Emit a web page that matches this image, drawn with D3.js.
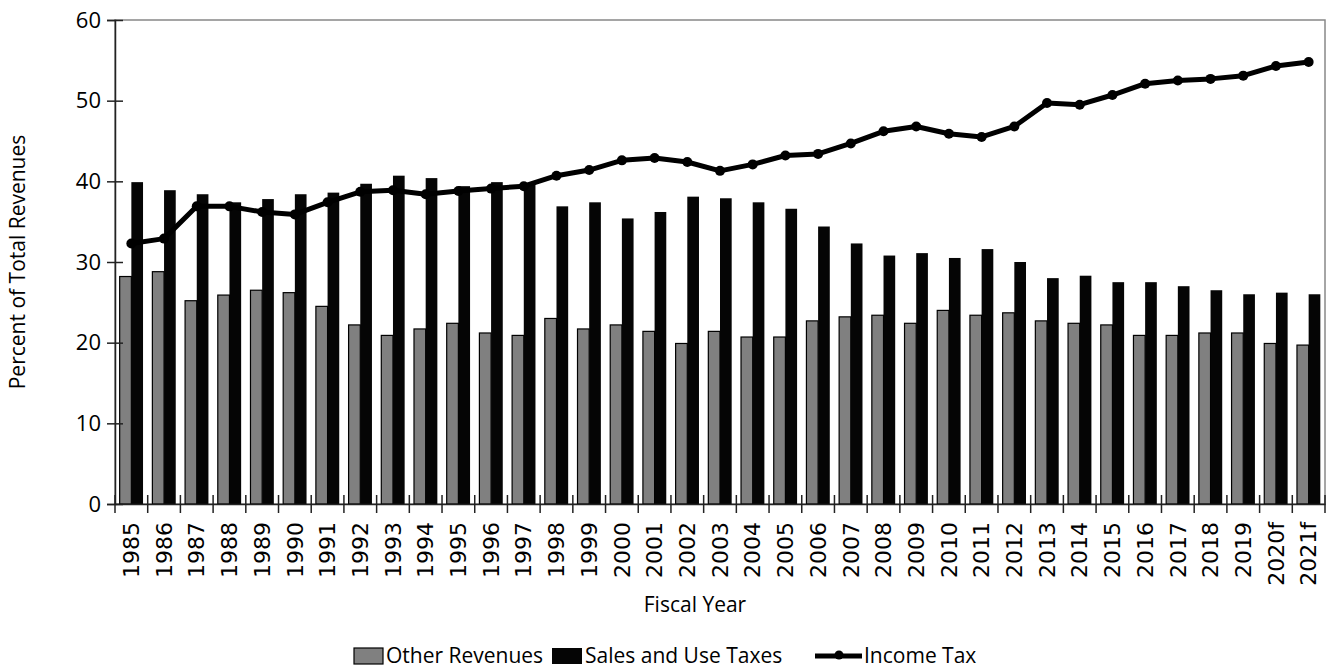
<!DOCTYPE html>
<html>
<head>
<meta charset="utf-8">
<script src="https://cdn.jsdelivr.net/npm/d3@7/dist/d3.min.js"></script>
<style>
  html, body { margin: 0; padding: 0; background: #fff; }
  svg { display: block; }
</style>
</head>
<body>
<svg id="chart" width="1330" height="671"></svg>
<script>
const years = ["1985","1986","1987","1988","1989","1990","1991","1992","1993","1994","1995","1996","1997","1998","1999","2000","2001","2002","2003","2004","2005","2006","2007","2008","2009","2010","2011","2012","2013","2014","2015","2016","2017","2018","2019","2020f","2021f"];
const otherRevenues = [28.2,28.8,25.2,25.9,26.5,26.2,24.5,22.2,20.9,21.7,22.4,21.2,20.9,23.0,21.7,22.2,21.4,19.9,21.4,20.7,20.7,22.7,23.2,23.4,22.4,24.0,23.4,23.7,22.7,22.4,22.2,20.9,20.9,21.2,21.2,19.9,19.7];
const salesTaxes = [39.9,38.9,38.4,37.4,37.8,38.4,38.6,39.7,40.7,40.4,39.4,39.9,39.6,36.9,37.4,35.4,36.2,38.1,37.9,37.4,36.6,34.4,32.3,30.8,31.1,30.5,31.6,30.0,28.0,28.3,27.5,27.5,27.0,26.5,26.0,26.2,26.0];
const incomeTax = [32.3,32.9,36.9,36.9,36.2,35.9,37.4,38.7,38.9,38.4,38.8,39.1,39.4,40.7,41.4,42.6,42.9,42.4,41.3,42.1,43.2,43.4,44.7,46.2,46.8,45.9,45.5,46.8,49.7,49.5,50.7,52.1,52.5,52.7,53.1,54.3,54.8];
const yTicks = [0,10,20,30,40,50,60];
const seriesNames = ["Other Revenues","Sales and Use Taxes","Income Tax"];
const yTitle = "Percent of Total Revenues";
const xTitle = "Fiscal Year";

const FONT = "'Open Sans', sans-serif";
const svg = d3.select("#chart");
const L = 115, R = 1325, T = 20, B = 504;

const x = d3.scaleBand().domain(years).range([L, R]).paddingInner(0).paddingOuter(0);
const y = d3.scaleLinear().domain([0, 60]).range([B, T]);
const bw = x.bandwidth();
const w = bw / 2.8;
const off = (bw - 2 * w) / 2;

// plot border
svg.append("rect").attr("x", L).attr("y", T).attr("width", R - L).attr("height", B - T)
  .attr("fill", "none").attr("stroke", "#888").attr("stroke-width", 1.5);

// bars
const data = years.map((yr, i) => ({yr, o: otherRevenues[i], s: salesTaxes[i], t: incomeTax[i]}));
svg.append("g").selectAll("rect").data(data).join("rect")
  .attr("x", d => x(d.yr) + off).attr("width", w)
  .attr("y", d => y(d.o)).attr("height", d => y(0) - y(d.o))
  .attr("fill", "#808080").attr("stroke", "#000").attr("stroke-width", 1.2);
svg.append("g").selectAll("rect").data(data).join("rect")
  .attr("x", d => x(d.yr) + off + w).attr("width", w)
  .attr("y", d => y(d.s)).attr("height", d => y(0) - y(d.s))
  .attr("fill", "#050505");

// y axis
const yAxis = svg.append("g").attr("transform", `translate(${L},0)`)
  .call(d3.axisLeft(y).tickValues(yTicks).tickSize(8).tickPadding(6));
yAxis.select(".domain").attr("stroke", "#222").attr("stroke-width", 1.5);
yAxis.selectAll(".tick line").attr("x1", -8).attr("x2", 8).attr("stroke", "#222").attr("stroke-width", 1.5);
yAxis.selectAll(".tick text").attr("font-family", FONT).attr("font-size", 22).attr("fill", "#000");

// x axis
const xAxis = svg.append("g").attr("transform", `translate(0,${B})`)
  .call(d3.axisBottom(x).tickSize(0).tickPadding(0));
xAxis.select(".domain").attr("stroke", "#222").attr("stroke-width", 1.5);
xAxis.selectAll(".tick text")
  .attr("font-family", "'DejaVu Sans', sans-serif").attr("font-size", 22).attr("fill", "#000")
  .attr("transform", "rotate(-90)").attr("text-anchor", "end")
  .attr("x", -18).attr("y", 0).attr("dy", "0.35em");
const boundaries = years.map(yr => x(yr)).concat([R]);
xAxis.append("g").selectAll("line").data(boundaries).join("line")
  .attr("x1", d => d).attr("x2", d => d).attr("y1", -9).attr("y2", 9)
  .attr("stroke", "#222").attr("stroke-width", 1.5);

// income tax line
const line = d3.line().x(d => x(d.yr) + bw / 2).y(d => y(d.t));
svg.append("path").datum(data).attr("d", line)
  .attr("fill", "none").attr("stroke", "#000").attr("stroke-width", 5).attr("stroke-linejoin", "round");
svg.append("g").selectAll("circle").data(data).join("circle")
  .attr("cx", d => x(d.yr) + bw / 2).attr("cy", d => y(d.t)).attr("r", 5).attr("fill", "#000");

// axis titles
svg.append("text").attr("transform", `translate(25,${(T + B) / 2}) rotate(-90)`)
  .attr("text-anchor", "middle").attr("font-family", FONT).attr("font-size", 21).text(yTitle);
svg.append("text").attr("x", 695).attr("y", 612)
  .attr("text-anchor", "middle").attr("font-family", FONT).attr("font-size", 21).text(xTitle);

// legend
const lg = svg.append("g").attr("transform", "translate(0,656)");
lg.append("rect").attr("x", 354).attr("y", -8).attr("width", 29).attr("height", 16)
  .attr("fill", "#808080").attr("stroke", "#000").attr("stroke-width", 1.2);
lg.append("text").attr("x", 386).attr("y", 0).attr("dy", "0.35em").attr("font-family", FONT).attr("font-size", 21).text(seriesNames[0]);
lg.append("rect").attr("x", 552).attr("y", -8).attr("width", 30).attr("height", 16).attr("fill", "#050505");
lg.append("text").attr("x", 585).attr("y", 0).attr("dy", "0.35em").attr("font-family", FONT).attr("font-size", 21).text(seriesNames[1]);
lg.append("line").attr("x1", 815).attr("x2", 862).attr("y1", 0).attr("y2", 0).attr("stroke", "#000").attr("stroke-width", 5);
lg.append("circle").attr("cx", 839).attr("cy", -1).attr("r", 4.5).attr("fill", "#000");
lg.append("text").attr("x", 864).attr("y", 0).attr("dy", "0.35em").attr("font-family", FONT).attr("font-size", 21).text(seriesNames[2]);
</script>
</body>
</html>
